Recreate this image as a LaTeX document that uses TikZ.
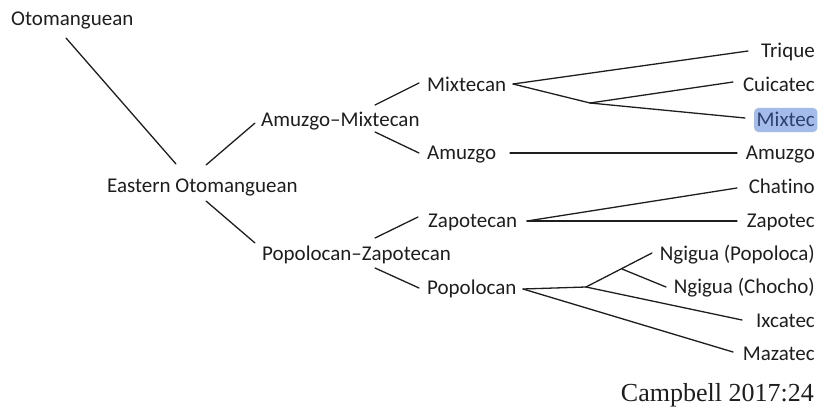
\documentclass[tikz,border=0pt]{standalone}
\usepackage{fontspec}
\setmainfont{Carlito}[Ligatures={TeX,NoCommon}]
\newfontfamily\citefont{Liberation Serif}
\definecolor{hlfill}{HTML}{A3BCEA}
\definecolor{hltext}{HTML}{2E416E}
\definecolor{ink}{HTML}{1E1E1E}
\begin{document}
\begin{tikzpicture}[x=1pt,y=-1pt,
  lbl/.style={inner sep=0pt, text height=15pt, text depth=3pt, text=ink,
    font=\fontsize{21}{25}\selectfont},
  lft/.style={lbl, anchor=west},
  rgt/.style={lbl, anchor=east},
  br/.style={draw=ink, line width=1.3pt, line cap=round}]
\useasboundingbox (0,0) rectangle (821,409);
% internal nodes
\node[lft] (oto) at (11,20) {Otomanguean};
\node[lft] (eastern) at (107,186) {Eastern Otomanguean};
\node[lft] (am) at (261,120) {Amuzgo–Mixtecan};
\node[lft] (pz) at (262,254) {Popolocan–Zapotecan};
\node[lft] (mixn) at (427,86) {Mixtecan};
\node[lft] (amz) at (427,153) {Amuzgo};
\node[lft] (zapn) at (428,221) {Zapotecan};
\node[lft] (popn) at (427,288) {Popolocan};
% leaves
\node[rgt] (trique) at (815,52) {Trique};
\node[rgt] (cuicatec) at (815,86) {Cuicatec};
\node[rgt, fill=hlfill, rounded corners=4pt, inner xsep=2.5pt, inner ysep=3pt, text=hltext] (mixtec) at (817.5,120) {Mixtec};
\node[rgt] (amuzgo) at (815,153) {Amuzgo};
\node[rgt] (chatino) at (815,187) {Chatino};
\node[rgt] (zapotec) at (815,221) {Zapotec};
\node[rgt] (ngp) at (815,254) {Ngigua (Popoloca)};
\node[rgt] (ngc) at (815,287) {Ngigua (Chocho)};
\node[rgt] (ixcatec) at (815,321) {Ixcatec};
\node[rgt] (mazatec) at (815,354) {Mazatec};
\node[anchor=base east, inner sep=0pt, text=ink, font=\citefont\fontsize{26}{30}\selectfont] (cite) at (814,401) {Campbell 2017:24};
% connector end points
\coordinate (otoA) at (66,38);   \coordinate (eastT) at (176,164);
\coordinate (eastU) at (206,165); \coordinate (amL) at (255,123);
\coordinate (eastD) at (206,201); \coordinate (pzL) at (255,243);
\coordinate (amU) at (375,105);  \coordinate (mixnL) at (419,83);
\coordinate (amD) at (375,132);  \coordinate (amzL) at (419,153);
\coordinate (pzU) at (375,238);  \coordinate (zapnL) at (418,217);
\coordinate (pzD) at (375,268);  \coordinate (popnL) at (419,288);
\coordinate (mixnR) at (513,84); \coordinate (j1) at (590,103);
\coordinate (triqueL) at (748,51); \coordinate (cuicatecL) at (733,82);
\coordinate (mixtecL) at (745,118);
\coordinate (amzR) at (510,153); \coordinate (amuzgoL) at (737,153);
\coordinate (zapnR) at (527,221); \coordinate (chatinoL) at (737,188);
\coordinate (zapotecL) at (737,221);
\coordinate (popnR) at (523,289); \coordinate (j2) at (586,287);
\coordinate (j3) at (622,269);
\coordinate (ngpL) at (652,253); \coordinate (ngcL) at (666,287);
\coordinate (ixcatecL) at (742,320); \coordinate (mazatecL) at (733,352);
% connectors
\draw[br] (otoA) -- (eastT);
\draw[br] (eastU) -- (amL);
\draw[br] (eastD) -- (pzL);
\draw[br] (amU) -- (mixnL);
\draw[br] (amD) -- (amzL);
\draw[br] (pzU) -- (zapnL);
\draw[br] (pzD) -- (popnL);
\draw[br] (mixnR) -- (triqueL);
\draw[br] (mixnR) -- (j1);
\draw[br] (j1) -- (cuicatecL);
\draw[br] (j1) -- (mixtecL);
\draw[br] (amzR) -- (amuzgoL);
\draw[br] (zapnR) -- (chatinoL);
\draw[br] (zapnR) -- (zapotecL);
\draw[br] (popnR) -- (j2);
\draw[br] (j2) -- (ngpL);
\draw[br] (j3) -- (ngcL);
\draw[br] (j2) -- (ixcatecL);
\draw[br] (popnR) -- (mazatecL);
\end{tikzpicture}
\end{document}
